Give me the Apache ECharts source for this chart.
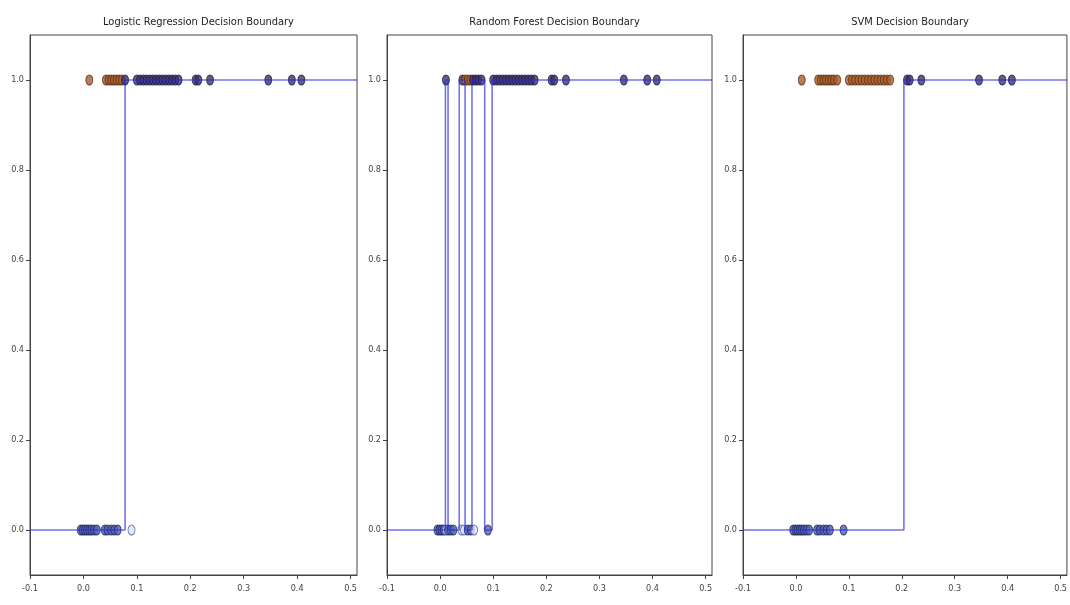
<!DOCTYPE html>
<html>
<head>
<meta charset="utf-8">
<script src="https://cdn.jsdelivr.net/npm/echarts@6/dist/echarts.min.js"></script>
<style>html,body{margin:0;padding:0;background:#fff;}#c{width:1070px;height:605px;}</style>
</head>
<body>
<div id="c"></div>
<script>
// ---- data ----
var titles = ['Logistic Regression Decision Boundary', 'Random Forest Decision Boundary', 'SVM Decision Boundary'];
var class1X = [0.011, 0.042, 0.047, 0.052, 0.057, 0.062, 0.067, 0.072, 0.078,
  0.100, 0.106, 0.112, 0.118, 0.124, 0.130, 0.136, 0.142, 0.148, 0.154, 0.160, 0.166, 0.172, 0.178,
  0.210, 0.215, 0.237, 0.346, 0.390, 0.408];
var class0X = [-0.005, -0.001, 0.003, 0.007, 0.011, 0.015, 0.020, 0.025, 0.040, 0.045, 0.052, 0.058, 0.064, 0.090];
// x positions where the predicted class flips (starting from class 0 at the left)
var lrSwitches = [0.078];
var rfSwitches = [0.010, 0.015, 0.036, 0.047, 0.060, 0.084, 0.098];
var svmSwitches = [0.204];
var xTicks = [-0.1, 0.0, 0.1, 0.2, 0.3, 0.4, 0.5];
var yTicks = [0.0, 0.2, 0.4, 0.6, 0.8, 1.0];
var xMin = -0.1, xMax = 0.512, yMin = -0.1, yMax = 1.1;

// ---- build ----
var switchesAll = [lrSwitches, rfSwitches, svmSwitches];
function predict(sw, x) { var c = 0; sw.forEach(function (s) { if (x >= s) c = 1 - c; }); return c; }
function linePath(sw) {
  var p = [[xMin, 0]], cur = 0;
  sw.forEach(function (s) { p.push([s, cur]); cur = 1 - cur; p.push([s, cur]); });
  p.push([xMax, cur]);
  return p;
}
var styles = {
  '11': { color: '#3d3470', borderColor: '#1b1838' },
  '10': { color: '#a85f2c', borderColor: '#5a2810' },
  '00': { color: '#5364b4', borderColor: '#1c2050' },
  '01': { color: '#dfe4f6', borderColor: '#4a58a8' }
};
var lefts = [30, 387, 743], widths = [327, 325, 324];
var grids = [], xAxes = [], yAxes = [], series = [], titleOpts = [];
var lab = { fontSize: 9, color: '#444', fontFamily: "'DejaVu Sans Condensed','Liberation Sans Narrow','DejaVu Sans',sans-serif" };
for (var i = 0; i < 3; i++) {
  grids.push({ left: lefts[i], width: widths[i], top: 35, height: 540, show: true, borderColor: '#444', borderWidth: 1, backgroundColor: '#fff' });
  titleOpts.push({ text: titles[i], left: lefts[i] + widths[i] / 2, textAlign: 'center', top: 12,
    textStyle: { fontSize: 11, fontWeight: 'normal', color: '#222', fontFamily: "'DejaVu Sans Condensed','Liberation Sans Narrow','DejaVu Sans',sans-serif" } });
  xAxes.push({ type: 'value', gridIndex: i, min: xMin, max: xMax,
    axisLine: { show: true, onZero: false, lineStyle: { color: '#444' } }, splitLine: { show: false },
    axisTick: { show: true, length: 4, customValues: xTicks, lineStyle: { color: '#444' } },
    axisLabel: Object.assign({ margin: 9, customValues: xTicks, formatter: function (v) { return v.toFixed(1); } }, lab) });
  yAxes.push({ type: 'value', gridIndex: i, min: yMin, max: yMax,
    axisLine: { show: true, onZero: false, lineStyle: { color: '#444' } }, splitLine: { show: false },
    axisTick: { show: true, length: 4, customValues: yTicks, lineStyle: { color: '#444' } },
    axisLabel: Object.assign({ margin: 6, customValues: yTicks, formatter: function (v) { return v.toFixed(1); } }, lab) });
  var sw = switchesAll[i];
  var pts = [];
  class0X.forEach(function (x) { var s = styles['0' + predict(sw, x)]; pts.push({ value: [x, 0], itemStyle: { color: s.color, borderColor: s.borderColor, borderWidth: 1 } }); });
  class1X.forEach(function (x) { var s = styles['1' + predict(sw, x)]; pts.push({ value: [x, 1], itemStyle: { color: s.color, borderColor: s.borderColor, borderWidth: 1 } }); });
  series.push({ type: 'scatter', xAxisIndex: i, yAxisIndex: i, symbol: 'circle', symbolSize: [7, 10], data: pts, z: 2, silent: true });
  series.push({ type: 'line', xAxisIndex: i, yAxisIndex: i, data: linePath(sw), showSymbol: false, z: 3, silent: true,
    lineStyle: { color: 'rgba(40,40,225,0.65)', width: 1.6 } });
}
var chart = echarts.init(document.getElementById('c'), null, { renderer: 'canvas' });
chart.setOption({ animation: false, backgroundColor: '#fff', title: titleOpts, grid: grids, xAxis: xAxes, yAxis: yAxes, series: series });
</script>
</body>
</html>
